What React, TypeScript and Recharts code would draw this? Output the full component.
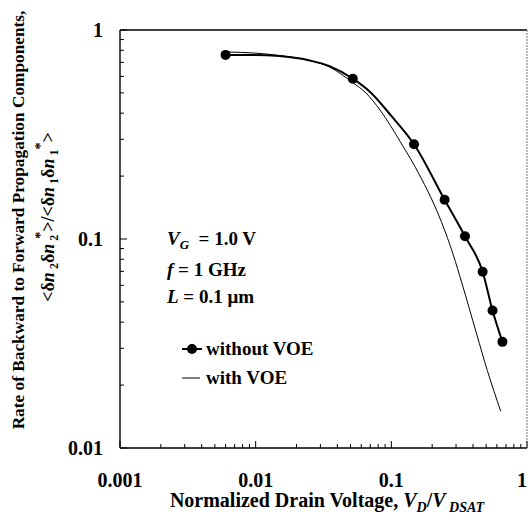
import React from "react";
import { ComposedChart, Line, Scatter, XAxis, YAxis, Legend } from "recharts";

const FONT = '"Liberation Serif", "Times New Roman", Times, serif';

// axis ticks (log decades + minor ticks)
const xMajor = [0.001, 0.01, 0.1, 1];
const xMajorLabels = ["0.001", "0.01", "0.1", "1"];
const xMinor = [
  0.002, 0.003, 0.004, 0.005, 0.006, 0.007, 0.008, 0.009,
  0.02, 0.03, 0.04, 0.05, 0.06, 0.07, 0.08, 0.09,
  0.2, 0.3, 0.4, 0.5, 0.6, 0.7, 0.8, 0.9,
];
const yMajor = [0.01, 0.1, 1];
const yMajorLabels = ["0.01", "0.1", "1"];
const yMinor = [
  0.02, 0.03, 0.04, 0.05, 0.06, 0.07, 0.08, 0.09,
  0.2, 0.3, 0.4, 0.5, 0.6, 0.7, 0.8, 0.9,
];

// without VOE: computed points (filled circles)
const withoutPtX = [0.006, 0.052, 0.147, 0.247, 0.349, 0.471, 0.557, 0.659];
const withoutPtY = [0.76, 0.585, 0.284, 0.154, 0.103, 0.0697, 0.0455, 0.0322];

// without VOE: the thick curve drawn through the points
const withoutCurveX = [0.006, 0.01, 0.015, 0.025, 0.035, 0.052, 0.071, 0.1, 0.147, 0.247, 0.349, 0.471, 0.557, 0.659];
const withoutCurveY = [0.76, 0.76, 0.75, 0.715, 0.672, 0.585, 0.5, 0.388, 0.284, 0.154, 0.103, 0.0697, 0.0455, 0.0322];

// with VOE: thin curve
const withX = [0.006, 0.01, 0.015, 0.025, 0.035, 0.052, 0.065, 0.0825, 0.118, 0.163, 0.218, 0.25, 0.286, 0.33, 0.426, 0.51, 0.64];
const withY = [0.785, 0.775, 0.755, 0.715, 0.665, 0.56, 0.5, 0.414, 0.288, 0.2, 0.135, 0.108, 0.084, 0.062, 0.035, 0.0235, 0.015];

const withoutPoints = withoutPtX.map((x, i) => ({ x, y: withoutPtY[i] }));
const withoutCurve = withoutCurveX.map((x, i) => ({ x, y: withoutCurveY[i] }));
const withCurve = withX.map((x, i) => ({ x, y: withY[i] }));

const XTick = (props: any) => {
  const { x, y, payload } = props;
  const idx = xMajor.indexOf(payload.value);
  const major = idx >= 0;
  return (
    <g>
      <line x1={x} x2={x} y1={y} y2={y - (major ? 7 : 4)} stroke="#000" />
      {major && (
        <text x={Math.min(x, 522)} y={y + 39} textAnchor="middle" fontFamily={FONT} fontWeight="bold" fontSize={20} fill="#000">
          {xMajorLabels[idx]}
        </text>
      )}
    </g>
  );
};

const YTick = (props: any) => {
  const { x, y, payload } = props;
  const idx = yMajor.indexOf(payload.value);
  const major = idx >= 0;
  return (
    <g>
      <line x1={x} x2={x + (major ? 7 : 4)} y1={y} y2={y} stroke="#000" />
      {major && (
        <text x={x - 17} y={y + 7} textAnchor="end" fontFamily={FONT} fontWeight="bold" fontSize={20} fill="#000">
          {yMajorLabels[idx]}
        </text>
      )}
    </g>
  );
};

const XTitle = () => (
  <text x={327} y={507} textAnchor="middle" fontFamily={FONT} fontWeight="bold" fontSize={20} fill="#000">
    Normalized Drain Voltage,{" "}
    <tspan fontStyle="italic">V</tspan>
    <tspan fontStyle="italic" fontSize={14} dy={5}>D</tspan>
    <tspan dy={-5}>/</tspan>
    <tspan fontStyle="italic">V</tspan>
    <tspan fontStyle="italic" fontSize={14} dy={5}> DSAT</tspan>
  </text>
);

const YTitle = () => (
  <g fontFamily={FONT} fontWeight="bold" fill="#000">
    <text transform="translate(24, 220) rotate(-90)" textAnchor="middle" fontSize={17.3}>
      Rate of Backward to Forward Propagation Components,
    </text>
    <text transform="translate(54, 217) rotate(-90)" textAnchor="middle" fontSize={18}>
      {"<"}δ<tspan fontStyle="italic">n</tspan>
      <tspan fontSize={12} dy={4}> 2</tspan>
      <tspan dy={-4}>δ</tspan><tspan fontStyle="italic">n</tspan>
      <tspan fontSize={12} dy={4}> 2</tspan>
      <tspan fontSize={14} dx={-4} dy={-13}>*</tspan>
      <tspan dy={9}>{">/<"}δ</tspan><tspan fontStyle="italic">n</tspan>
      <tspan fontSize={12} dy={4}> 1</tspan>
      <tspan dy={-4}>δ</tspan><tspan fontStyle="italic">n</tspan>
      <tspan fontSize={12} dy={4}> 1</tspan>
      <tspan fontSize={14} dy={-13}>*</tspan>
      <tspan dy={9}>{">"}</tspan>
    </text>
  </g>
);

const renderLegend = () => (
  <div style={{ fontFamily: FONT, fontWeight: "bold", fontSize: 19, lineHeight: "29px", color: "#000" }}>
    <div style={{ display: "flex", alignItems: "center" }}>
      <svg width={21} height={12}>
        <line x1={0} y1={6} x2={20} y2={6} stroke="#000" strokeWidth={2} />
        <circle cx={10} cy={6} r={5} fill="#000" />
      </svg>
      <span style={{ marginLeft: 3 }}>without VOE</span>
    </div>
    <div style={{ display: "flex", alignItems: "center" }}>
      <svg width={21} height={12}>
        <line x1={0} y1={6} x2={18} y2={6} stroke="#000" strokeWidth={1} />
      </svg>
      <span style={{ marginLeft: 3 }}>with VOE</span>
    </div>
  </div>
);

const noteStyle: React.CSSProperties = {
  position: "absolute",
  left: 167,
  fontFamily: FONT,
  fontWeight: "bold",
  fontSize: 19,
  lineHeight: "19px",
  whiteSpace: "pre",
  color: "#000",
};

export default function App() {
  return (
    <div style={{ position: "absolute", left: 0, top: 0, width: 529, height: 516, background: "#fff" }}>
      <ComposedChart
        width={529}
        height={516}
        margin={{ top: 29, right: 1, bottom: 67, left: 119 }}
        style={{ background: "#fff" }}
      >
        <XAxis
          dataKey="x"
          type="number"
          scale="log"
          domain={[0.001, 1]}
          allowDataOverflow
          ticks={[...xMajor, ...xMinor]}
          interval={0}
          height={1}
          tickSize={0}
          tickMargin={0}
          tickLine={false}
          tick={(p: any) => <XTick {...p} />}
          axisLine={{ stroke: "#000", strokeWidth: 1.6 }}
          label={() => <XTitle />}
        />
        <XAxis
          xAxisId="top"
          orientation="top"
          type="number"
          scale="log"
          domain={[0.001, 1]}
          allowDataOverflow
          height={1}
          tick={false}
          tickLine={false}
          axisLine={{ stroke: "#000", strokeWidth: 1.4 }}
        />
        <YAxis
          dataKey="y"
          type="number"
          scale="log"
          domain={[0.01, 1]}
          allowDataOverflow
          ticks={[...yMajor, ...yMinor]}
          interval={0}
          width={1}
          tickSize={0}
          tickMargin={0}
          tickLine={false}
          tick={(p: any) => <YTick {...p} />}
          axisLine={{ stroke: "#000", strokeWidth: 1.4 }}
          label={() => <YTitle />}
        />
        <YAxis
          yAxisId="right"
          orientation="right"
          type="number"
          scale="log"
          domain={[0.01, 1]}
          allowDataOverflow
          width={1}
          tick={false}
          tickLine={false}
          axisLine={{ stroke: "#777", strokeWidth: 1, strokeDasharray: "2 1" }}
        />
        <Line
          data={withCurve}
          dataKey="y"
          type="monotone"
          stroke="#000"
          strokeWidth={1}
          dot={false}
          isAnimationActive={false}
          name="with VOE"
        />
        <Line
          data={withoutCurve}
          dataKey="y"
          type="monotone"
          stroke="#000"
          strokeWidth={2}
          dot={false}
          isAnimationActive={false}
          name="without VOE"
        />
        <Scatter
          data={withoutPoints}
          dataKey="y"
          fill="#000"
          shape={(p: any) => <circle cx={p.cx} cy={p.cy} r={5} fill="#000" />}
          isAnimationActive={false}
        />
        <Legend
          content={renderLegend}
          layout="vertical"
          align="center"
          verticalAlign="middle"
          wrapperStyle={{ left: 182, top: 334, width: 200, height: 60 }}
        />
      </ComposedChart>
      <div style={{ ...noteStyle, top: 229 }}>
        <i>V</i>
        <i style={{ fontSize: 13, verticalAlign: -4 }}>G</i>
        {"  = 1.0 V"}
      </div>
      <div style={{ ...noteStyle, top: 260 }}>
        <i>f</i>
        {" = 1 GHz"}
      </div>
      <div style={{ ...noteStyle, top: 287 }}>
        <i>L</i>
        {" = 0.1 μm"}
      </div>
    </div>
  );
}
